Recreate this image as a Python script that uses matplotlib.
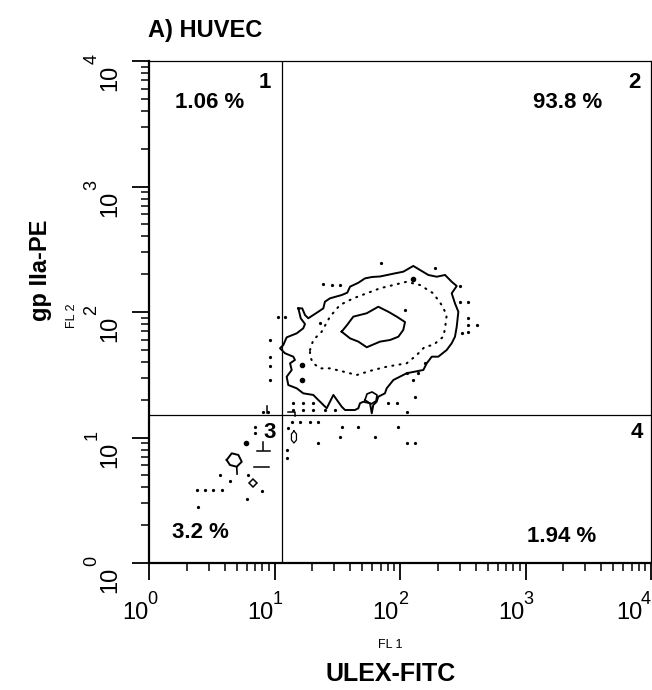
import numpy as np
import matplotlib
matplotlib.use("Agg")
import matplotlib.pyplot as plt
from matplotlib.ticker import LogLocator, NullFormatter
from matplotlib.transforms import ScaledTranslation

plt.rcParams['font.family'] = ['Liberation Sans', 'DejaVu Sans']

# all channel values below are log10 of FL1 / FL2
decades = [0, 1, 2, 3, 4]
gate_fl1 = 1.06
gate_fl2 = 1.18

quad_ids = ['1', '2', '3', '4']
quad_pct = ['1.06 %', '93.8 %', '3.2 %', '1.94 %']

# outer (solid) contour
outer_x = [1.190, 1.221, 1.243, 1.269, 1.349, 1.389, 1.402, 1.442, 1.535, 1.580,
           1.602, 1.668, 1.721, 1.777, 1.841, 1.960, 2.026, 2.106, 2.159, 2.226,
           2.292, 2.359, 2.412, 2.452, 2.412, 2.438, 2.465, 2.452, 2.438, 2.412,
           2.372, 2.305, 2.253, 2.213, 2.186, 2.053, 1.947, 1.894, 1.880, 1.827,
           1.814, 1.787, 1.775, 1.761, 1.708, 1.681, 1.668, 1.641, 1.562, 1.535,
           1.469, 1.416, 1.349, 1.309, 1.229, 1.177, 1.110, 1.097, 1.137, 1.124,
           1.163, 1.150, 1.084, 1.044, 1.070, 1.097, 1.177, 1.229, 1.243, 1.209,
           1.190]
outer_y = [2.029, 2.029, 1.976, 1.950, 2.002, 2.029, 2.082, 2.109, 2.135, 2.154,
           2.202, 2.233, 2.268, 2.279, 2.283, 2.308, 2.321, 2.367, 2.335, 2.295,
           2.281, 2.295, 2.241, 2.207, 2.149, 2.069, 2.002, 1.883, 1.803, 1.751,
           1.697, 1.644, 1.644, 1.591, 1.538, 1.512, 1.458, 1.392, 1.352, 1.325,
           1.285, 1.259, 1.193, 1.273, 1.285, 1.273, 1.233, 1.219, 1.219, 1.246,
           1.339, 1.233, 1.299, 1.339, 1.352, 1.392, 1.418, 1.484, 1.538, 1.591,
           1.618, 1.644, 1.671, 1.711, 1.737, 1.798, 1.830, 1.870, 1.904, 1.950,
           2.029]

# small loop on the lower edge of the outer contour
loop_x = [1.721, 1.737, 1.777, 1.817, 1.809, 1.769, 1.721]
loop_y = [1.299, 1.347, 1.363, 1.339, 1.291, 1.267, 1.299]

# middle (dotted) contour
mid_x = [1.283, 1.309, 1.376, 1.442, 1.522, 1.628, 1.735, 1.841, 1.947, 2.053,
         2.159, 2.265, 2.332, 2.372, 2.359, 2.345, 2.265, 2.199, 2.133, 2.053,
         1.974, 1.894, 1.787, 1.655, 1.548, 1.442, 1.363, 1.309, 1.283, 1.283]
mid_y = [1.697, 1.777, 1.843, 1.963, 2.056, 2.109, 2.149, 2.189, 2.215, 2.241,
         2.215, 2.149, 2.056, 1.976, 1.870, 1.803, 1.737, 1.724, 1.657, 1.591,
         1.578, 1.564, 1.538, 1.498, 1.525, 1.551, 1.551, 1.591, 1.644, 1.697]

# inner (solid) contour
inner_x = [1.535, 1.578, 1.628, 1.735, 1.827, 1.907, 1.974, 2.040, 2.026, 1.987,
           1.921, 1.841, 1.735, 1.668, 1.602, 1.535]
inner_y = [1.843, 1.896, 1.963, 1.990, 2.042, 2.002, 1.963, 1.920, 1.857, 1.803,
           1.777, 1.764, 1.719, 1.764, 1.790, 1.843]

# small contours in the lower quadrants
pent_x = [0.619, 0.659, 0.712, 0.739, 0.699, 0.645, 0.619]
pent_y = [0.821, 0.874, 0.861, 0.807, 0.767, 0.781, 0.821]
pent_tail_x = [0.699, 0.702]
pent_tail_y = [0.767, 0.709]
oval_x = [1.155, 1.175, 1.175, 1.155, 1.135, 1.135, 1.155]
oval_y = [1.052, 1.028, 0.980, 0.956, 0.980, 1.028, 1.052]
dia_x = [0.831]
dia_y = [0.640]
segs = [([0.911, 0.911], [0.967, 0.900]),
        ([0.858, 0.964], [0.895, 0.895]),
        ([0.839, 0.959], [0.767, 0.767]),
        ([1.108, 1.163, 1.163], [1.203, 1.203, 1.171]),
        ([0.938, 0.938], [1.251, 1.195])]
big_dot_x = [0.773, 1.217, 1.217, 2.106]
big_dot_y = [0.959, 1.578, 1.458, 2.261]

# single events
dot_x = [1.846, 2.279, 1.389, 1.456, 1.522, 1.030, 1.084, 0.964, 0.964, 0.964,
         0.964, 2.478, 2.544, 2.544, 2.544, 2.611, 2.492, 2.040, 2.106, 2.053,
         2.120, 1.974, 1.907, 2.053, 1.150, 1.229, 1.309, 1.150, 1.229, 1.309,
         1.402, 1.482, 1.137, 1.203, 1.283, 1.349, 1.535, 1.668, 1.987, 1.522,
         1.801, 0.911, 0.951, 2.053, 2.120, 1.349, 2.478, 2.544, 0.385, 0.446,
         0.512, 0.579, 0.393, 0.778, 0.898, 0.566, 0.645, 0.791, 0.845, 0.845,
         1.097, 1.097, 1.110, 1.363, 2.199, 2.146]
dot_y = [2.393, 2.348, 2.221, 2.215, 2.215, 1.958, 1.958, 1.777, 1.644, 1.570,
         1.458, 2.082, 2.082, 1.950, 1.896, 1.896, 1.830, 2.016, 1.458, 1.512,
         1.325, 1.273, 1.273, 1.206, 1.273, 1.273, 1.273, 1.219, 1.219, 1.219,
         1.219, 1.219, 1.126, 1.126, 1.126, 1.126, 1.086, 1.086, 1.086, 1.006,
         1.006, 1.206, 1.206, 0.954, 0.954, 0.954, 2.207, 1.843, 0.582, 0.582,
         0.582, 0.582, 0.444, 0.510, 0.576, 0.701, 0.656, 0.701, 1.033, 1.086,
         0.900, 0.834, 1.073, 1.910, 1.591, 1.511]


def lin(v):
    return 10 ** np.asarray(v)


W, H = 652, 690
fig = plt.figure(figsize=(W / 100, H / 100), dpi=100)
ax = fig.add_axes([149 / W, 1 - 563 / H, 502 / W, 502 / H])
ax.set_xscale('log')
ax.set_yscale('log')
ax.set_xlim(10 ** decades[0], 10 ** decades[-1])
ax.set_ylim(10 ** decades[0], 10 ** decades[-1])

# quadrant gates
ax.axvline(10 ** gate_fl1, color='black', lw=0.9)
ax.axhline(10 ** gate_fl2, color='black', lw=0.9)

# contours
ax.plot(lin(outer_x), lin(outer_y), color='black', lw=1.4)
ax.plot(lin(loop_x), lin(loop_y), color='black', lw=1.2)
ax.plot(lin(mid_x), lin(mid_y), color='black', lw=1.5, linestyle=(0, (0.5, 3.0)),
        dash_capstyle='round')
ax.plot(lin(inner_x), lin(inner_y), color='black', lw=1.4)
ax.plot(lin(pent_x), lin(pent_y), color='black', lw=1.4)
ax.plot(lin(pent_tail_x), lin(pent_tail_y), color='black', lw=1.2)
ax.plot(lin(oval_x), lin(oval_y), color='black', lw=0.9)
ax.plot(lin(dia_x), lin(dia_y), marker='D', ms=4, mfc='white', mec='black', mew=1.1,
        linestyle='none')
for sx, sy in segs:
    ax.plot(lin(sx), lin(sy), color='black', lw=1.1)
ax.plot(lin(big_dot_x), lin(big_dot_y), 'o', color='black', ms=3)
ax.plot(lin(dot_x), lin(dot_y), 'o', color='black', ms=1.3)

# axes styling
for side in ['left', 'bottom']:
    ax.spines[side].set_linewidth(1.6)
for side in ['top', 'right']:
    ax.spines[side].set_linewidth(0.9)
for axis in [ax.xaxis, ax.yaxis]:
    axis.set_major_locator(LogLocator(base=10, numticks=10))
    axis.set_minor_locator(LogLocator(base=10, subs=np.arange(2, 10), numticks=20))
    axis.set_major_formatter(NullFormatter())
    axis.set_minor_formatter(NullFormatter())
ax.tick_params(which='major', direction='out', length=12, width=1.3)
ax.tick_params(which='minor', direction='out', length=6, width=1.1)

# decade labels "10" with raised exponent
xt = ax.get_xaxis_transform()
yt = ax.get_yaxis_transform()
px = 1 / 100
for i, e in enumerate(decades):
    shift = -8 if i == len(decades) - 1 else 0
    ax.text(10 ** e, 0, '10', ha='right', va='center', fontsize=17,
            transform=xt + ScaledTranslation((shift - 1) * px, -50 * px, fig.dpi_scale_trans))
    ax.text(10 ** e, 0, str(e), ha='center', va='center', fontsize=13,
            transform=xt + ScaledTranslation((shift + 3) * px, -37 * px, fig.dpi_scale_trans))
    ax.text(0, 10 ** e, '10', rotation=90, ha='center', va='top', fontsize=17,
            transform=yt + ScaledTranslation(-39 * px, -4 * px, fig.dpi_scale_trans))
    ax.text(0, 10 ** e, str(e), rotation=90, ha='center', va='center', fontsize=13,
            transform=yt + ScaledTranslation(-57 * px, 2 * px, fig.dpi_scale_trans))


def fx(x):
    return x / W


def fy(y):
    return 1 - y / H


# axis titles
fig.text(fx(390), fy(645), 'FL 1', ha='center', va='center', fontsize=9)
fig.text(fx(391), fy(674), 'ULEX-FITC', ha='center', va='center', fontsize=18,
         fontweight='bold')
fig.text(fx(72), fy(316), 'FL 2', ha='center', va='center', fontsize=9, rotation=90)
fig.text(fx(40), fy(270), 'gp IIa-PE', ha='center', va='center', fontsize=17,
         fontweight='bold', rotation=90)
fig.text(fx(148), fy(30), 'A) HUVEC', ha='left', va='center', fontsize=17,
         fontweight='bold')

# quadrant numbers and percentages
id_pos = [(265, 82), (634, 82), (270, 432), (637, 432)]
pct_pos = [(210, 103), (568, 103), (200, 533), (562, 536)]
for q, (x, y) in zip(quad_ids, id_pos):
    fig.text(fx(x), fy(y), q, ha='center', va='center', fontsize=16, fontweight='bold')
for p, (x, y) in zip(quad_pct, pct_pos):
    fig.text(fx(x), fy(y), p, ha='center', va='center', fontsize=16, fontweight='bold')

fig.savefig('out.png', dpi=100)
